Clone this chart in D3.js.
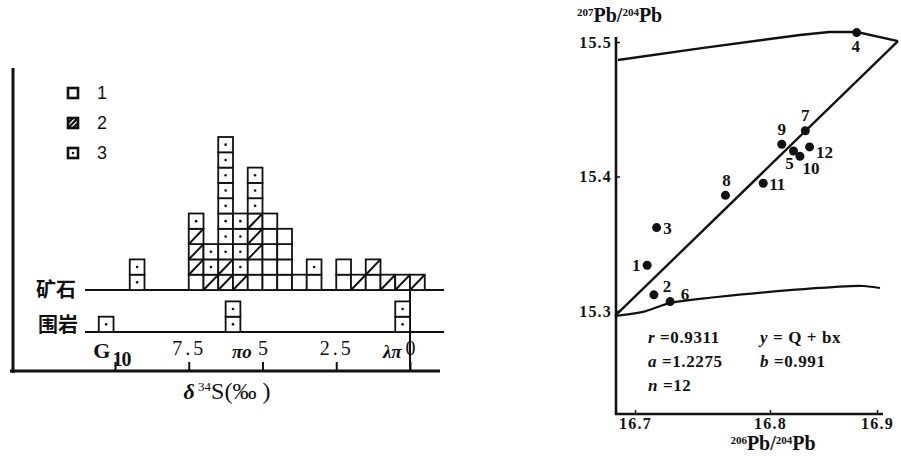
<!DOCTYPE html>
<html>
<head>
<meta charset="utf-8">
<script src="https://cdn.jsdelivr.net/npm/d3@7"></script>
<style>
  body { margin: 0; background: #fff; }
  svg { display: block; }
</style>
</head>
<body>
<div id="chart"></div>
<script>
// ---- left panel: delta34S histogram (bin centres in permil, 0.5 wide bins)
// stacks are listed bottom -> top: 1 plain, 2 hatched, 3 dotted
const oreBins = [9.25, 7.25, 6.75, 6.25, 5.75, 5.25, 4.75, 4.25, 3.75, 3.25, 2.25, 1.75, 1.25, 0.75, 0.25, -0.25];
const oreStacks = [
  [3, 3],
  [1, 2, 2, 2, 3],
  [2, 3, 3],
  [2, 2, 3, 3, 3, 3, 3, 3, 3, 3],
  [2, 3, 3, 3, 3],
  [1, 1, 2, 2, 2, 3, 3, 3],
  [1, 1, 1, 1, 1],
  [1, 1, 1, 1],
  [1],
  [1, 3],
  [1, 1],
  [2],
  [1, 2],
  [2],
  [2],
  [2]
];
const wallBins = [10.3, 6.0, 0.25];
const wallStacks = [[3], [3, 3], [3, 3]];
const rockLabels = ["G", "πo", "λπ"];
const rockLabelAt = [10.45, 5.7, 0.6];
const deltaTicks = [10, 7.5, 5, 2.5, 0];
const legendTypes = [1, 2, 3];
const legendLabels = ["1", "2", "3"];

// ---- right panel: lead isotopes
const sampleIds = [1, 2, 3, 4, 5, 6, 7, 8, 9, 10, 11, 12];
const pb206 = [16.709, 16.714, 16.716, 16.881, 16.822, 16.726, 16.833, 16.767, 16.811, 16.828, 16.795, 16.837];
const pb207 = [15.334, 15.312, 15.362, 15.507, 15.419, 15.307, 15.434, 15.386, 15.424, 15.415, 15.395, 15.422];
const fit206 = [16.6852, 16.9196];
const fit207 = [15.2963, 15.5007];
const upper206 = [16.6874, 16.7481, 16.8280, 16.8554, 16.8813, 16.9196];
const upper207 = [15.4866, 15.4953, 15.5052, 15.5074, 15.5074, 15.5007];
const lower206 = [16.6852, 16.7059, 16.7259, 16.7607, 16.7978, 16.8589, 16.8869, 16.9028];
const lower207 = [15.2963, 15.2993, 15.3059, 15.3104, 15.3141, 15.3178, 15.3186, 15.3171];
const pbXTicks = [16.7, 16.8, 16.9];
const pbYTicks = [15.3, 15.4, 15.5];
const statText = [["r", " =0.9311"], ["a", " =1.2275"], ["n", " =12"], ["y", " = Q + bx"], ["b", " =0.991"]];

// label offsets for sample numbers (px)
const idOffset = {1: [-11, 6], 2: [13, -3], 3: [11, 6], 4: [-1, 19], 5: [-4, 18], 6: [15, -2],
  7: [0, -10], 8: [1, -9], 9: [0, -9], 10: [11, 18], 11: [14, 7], 12: [15, 11]};

const SERIF = '"Liberation Serif", "DejaVu Serif", serif';
const W = 901, H = 456;
const svg = d3.select('#chart').append('svg').attr('width', W).attr('height', H);
svg.append('rect').attr('width', W).attr('height', H).attr('fill', '#fff');

// ================= left panel =================
const left = svg.append('g');
const xS = d3.scaleLinear().domain([10, 0]).range([115, 410]);
const rowH = d3.scaleLinear().domain([0, 10]).range([0, 153]);
const oreBase = 290, wallBase = 332, axisY = 371;

// frame
left.append('line').attr('x1', 13).attr('x2', 13).attr('y1', 68).attr('y2', axisY + 2)
  .attr('stroke', '#111').attr('stroke-width', 3);
left.append('line').attr('x1', 10).attr('x2', 440).attr('y1', axisY).attr('y2', axisY)
  .attr('stroke', '#111').attr('stroke-width', 3);
[oreBase, wallBase].forEach(y => {
  left.append('line').attr('x1', 85).attr('x2', 444).attr('y1', y).attr('y2', y)
    .attr('stroke', '#111').attr('stroke-width', 2);
});
left.append('line').attr('x1', xS(0)).attr('x2', xS(0)).attr('y1', oreBase).attr('y2', axisY)
  .attr('stroke', '#111').attr('stroke-width', 2);

function drawBoxes(g, bins, stacks, base) {
  const cells = [];
  bins.forEach((c, i) => stacks[i].forEach((t, k) => cells.push({ c: c, k: k, t: t })));
  const cell = g.selectAll('g.cell').data(cells).enter().append('g').attr('class', 'cell')
    .attr('transform', d => `translate(${xS(d.c + 0.25)},${base - rowH(d.k + 1)})`);
  const w = xS(0) - xS(0.5), h = rowH(1);
  cell.append('rect').attr('width', w).attr('height', h)
    .attr('fill', '#fff').attr('stroke', '#111').attr('stroke-width', 1.8);
  cell.filter(d => d.t === 2).append('line')
    .attr('x1', 0).attr('y1', h).attr('x2', w).attr('y2', 0)
    .attr('stroke', '#111').attr('stroke-width', 2);
  cell.filter(d => d.t === 3).append('circle')
    .attr('cx', w / 2).attr('cy', h / 2).attr('r', 1.3).attr('fill', '#111');
}
drawBoxes(left.append('g'), oreBins, oreStacks, oreBase);
drawBoxes(left.append('g'), wallBins, wallStacks, wallBase);

// axis with ticks pointing up and labels above the line
const ax = left.append('g').attr('transform', `translate(0,${axisY})`)
  .call(d3.axisTop(xS).tickValues(deltaTicks).tickSize(9).tickPadding(7).tickFormat(d => String(d)));
ax.select('.domain').remove();
ax.selectAll('.tick line').attr('stroke', '#111').attr('stroke-width', 2);
ax.selectAll('.tick text').attr('font-family', SERIF).attr('font-size', 20).attr('fill', '#111')
  .attr('letter-spacing', d => String(d).length > 1 ? 3 : 0);
ax.selectAll('.tick text').filter(d => d === 10).attr('dy', '0.55em').attr('dx', 6)
  .attr('font-weight', 'bold').attr('letter-spacing', -1);

left.selectAll('text.rock').data(rockLabels).enter().append('text')
  .attr('class', 'rock')
  .attr('x', (d, i) => xS(rockLabelAt[i])).attr('y', 358)
  .attr('text-anchor', 'middle').attr('font-family', SERIF)
  .attr('font-size', (d, i) => i === 0 ? 22 : 19)
  .attr('font-weight', 'bold')
  .attr('font-style', (d, i) => i === 0 ? 'normal' : 'italic')
  .attr('fill', '#111').text(d => d);

left.append('text').attr('x', 36).attr('y', 297).attr('font-family', '"Noto Sans CJK SC", sans-serif')
  .attr('font-size', 20).attr('font-weight', 'bold').attr('fill', '#111').text('矿石');
left.append('text').attr('x', 38).attr('y', 332).attr('font-family', '"Noto Sans CJK SC", sans-serif')
  .attr('font-size', 20).attr('font-weight', 'bold').attr('fill', '#111').text('围岩');

// axis title
const xt = left.append('text').attr('x', 227).attr('y', 399).attr('font-family', SERIF)
  .attr('text-anchor', 'middle').attr('fill', '#111');
xt.append('tspan').attr('font-size', 22).attr('font-style', 'italic').attr('font-weight', 'bold').text('δ');
xt.append('tspan').attr('font-size', 13).attr('dy', -8).text(' 34');
xt.append('tspan').attr('font-size', 24).attr('dy', 8).text('S(‰ )');

// legend
const lg = left.selectAll('g.leg').data(legendTypes).enter().append('g').attr('class', 'leg')
  .attr('transform', (d, i) => `translate(68,${88 + i * 30})`);
lg.append('rect').attr('width', 10).attr('height', 10).attr('fill', '#fff')
  .attr('stroke', '#111').attr('stroke-width', 2.6);
lg.filter(d => d === 2).append('path').attr('d', 'M0,10L10,0M0,5L5,0M5,10L10,5')
  .attr('stroke', '#111').attr('stroke-width', 2.4);
lg.filter(d => d === 3).append('circle').attr('cx', 5).attr('cy', 5).attr('r', 1.3).attr('fill', '#111');
lg.append('text').attr('x', 29).attr('y', 11).attr('font-family', '"Liberation Sans", Arial, sans-serif')
  .attr('font-size', 18).attr('fill', '#111').text((d, i) => legendLabels[i]);

// ================= right panel =================
const right = svg.append('g');
const xR = d3.scaleLinear().domain([16.7, 16.8, 16.9]).range([635, 770, 877]);
const yR = d3.scaleLinear().domain([15.3, 15.5]).range([311, 42]);
const axX = 616, axY = 414;

right.append('line').attr('x1', axX).attr('x2', axX).attr('y1', 37).attr('y2', axY + 1)
  .attr('stroke', '#111').attr('stroke-width', 2.6);
right.append('line').attr('x1', axX - 1).attr('x2', 883).attr('y1', axY).attr('y2', axY)
  .attr('stroke', '#111').attr('stroke-width', 2.6);

const gx = right.append('g').attr('transform', `translate(0,${axY})`)
  .call(d3.axisBottom(xR).tickValues(pbXTicks).tickSizeInner(-4).tickSizeOuter(0).tickPadding(4)
    .tickFormat(d3.format('.1f')));
const gy = right.append('g').attr('transform', `translate(${axX},0)`)
  .call(d3.axisLeft(yR).tickValues(pbYTicks).tickSizeInner(-4).tickSizeOuter(0).tickPadding(4)
    .tickFormat(d3.format('.1f')));
[gx, gy].forEach(g => {
  g.select('.domain').remove();
  g.selectAll('.tick line').attr('stroke', '#111').attr('stroke-width', 1.5);
  g.selectAll('.tick text').attr('font-family', SERIF).attr('font-size', 16).attr('font-weight', 'bold')
    .attr('letter-spacing', 1.2).attr('fill', '#111');
});

const line = d3.line().x(d => xR(d[0])).y(d => yR(d[1]));
right.append('path').attr('d', line(d3.zip(upper206, upper207)))
  .attr('fill', 'none').attr('stroke', '#111').attr('stroke-width', 2.4);
right.append('path').attr('d', line(d3.zip(fit206, fit207)))
  .attr('fill', 'none').attr('stroke', '#111').attr('stroke-width', 2.4);
right.append('path').attr('d', line.curve(d3.curveCatmullRom)(d3.zip(lower206, lower207)))
  .attr('fill', 'none').attr('stroke', '#111').attr('stroke-width', 2.2);

right.selectAll('circle.pt').data(sampleIds).enter().append('circle').attr('class', 'pt')
  .attr('cx', (d, i) => xR(pb206[i])).attr('cy', (d, i) => yR(pb207[i])).attr('r', 4.5)
  .attr('fill', '#111');
right.selectAll('text.id').data(sampleIds).enter().append('text').attr('class', 'id')
  .attr('x', (d, i) => xR(pb206[i]) + idOffset[d][0])
  .attr('y', (d, i) => yR(pb207[i]) + idOffset[d][1])
  .attr('text-anchor', 'middle').attr('font-family', SERIF).attr('font-size', 17).attr('font-weight', 'bold')
  .attr('fill', '#111').text(d => d);

// regression statistics
const statPos = [[648, 343], [648, 367], [648, 391], [760, 343], [760, 367]];
right.selectAll('text.stat').data(statText).enter().append('text').attr('class', 'stat')
  .attr('x', (d, i) => statPos[i][0]).attr('y', (d, i) => statPos[i][1])
  .attr('font-family', SERIF).attr('font-size', 17).attr('font-weight', 'bold')
  .attr('letter-spacing', 0.6).attr('fill', '#111')
  .each(function(d) {
    d3.select(this).append('tspan').attr('font-style', 'italic').text(d[0]);
    d3.select(this).append('tspan').text(d[1]);
  });

function pbLabel(g, x, y, top, anchor) {
  const t = g.append('text').attr('x', x).attr('y', y).attr('font-family', SERIF)
    .attr('text-anchor', anchor).attr('font-weight', 'bold').attr('fill', '#111');
  t.append('tspan').attr('font-size', 11).attr('dy', -6).text(top);
  t.append('tspan').attr('font-size', 20).attr('dy', 6).text('Pb/');
  t.append('tspan').attr('font-size', 11).attr('dy', -6).text('204');
  t.append('tspan').attr('font-size', 20).attr('dy', 6).text('Pb');
}
pbLabel(right, 577, 22, '207', 'start');
pbLabel(right, 773, 450, '206', 'middle');
</script>
</body>
</html>
